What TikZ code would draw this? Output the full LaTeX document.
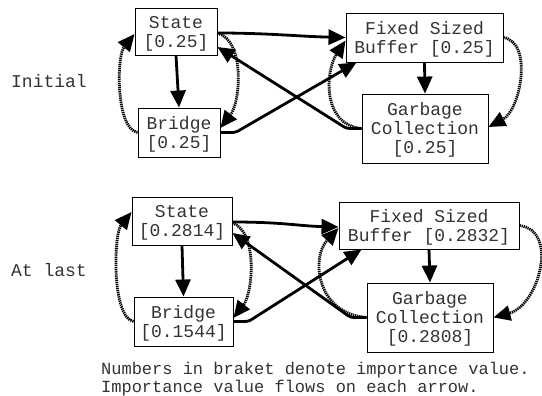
\documentclass[tikz,border=0pt]{standalone}
\usepackage{fontspec}
\setmainfont{Liberation Mono}
\usetikzlibrary{arrows.meta}

\tikzset{
  box/.style={draw=black, line width=0.9pt, inner sep=0pt, align=center,
    text=black!80, font=\fontsize{18}{19}\selectfont},
  lbl/.style={inner sep=0pt, text=black!80, font=\fontsize{18}{19}\selectfont},
  flow/.style={line width=2.8pt, -{Triangle[length=17pt,width=15pt]}},
  back/.style={line width=2.8pt, dash pattern=on 1.3pt off 0.8pt,
    -{Triangle[length=17pt,width=15pt]}},
  lift/.style={yshift=-2pt},
}

\begin{document}
\begin{tikzpicture}[x=1pt, y=-1pt]
\useasboundingbox (0,0) rectangle (542,396);

% ---- initial values ----
\node[lbl] (init) at (49,81) {Initial};
\node[box, minimum width=82pt, minimum height=47pt] (s1) at (176,31.5) {\rule{0pt}{16pt}State\\{}[0.25]};
\node[box, minimum width=82pt, minimum height=49pt] (b1) at (179,132.5) {\rule{0pt}{16pt}Bridge\\{}[0.25]};
\node[box, minimum width=157pt, minimum height=49pt] (f1) at (424.5,37.5) {\rule{0pt}{16pt}Fixed Sized\\Buffer [0.25]};
\node[box, minimum width=126pt, minimum height=69pt] (g1) at (425,128.5) {\rule{0pt}{16pt}Garbage\\Collection\\{}[0.25]};

\draw[flow] (s1.south) -- (b1.north);
\draw[flow] ([yshift=-1.5pt]s1.east) .. controls +(50,0) and +(-45,-1) .. (f1.west);
\draw[flow, rounded corners=3pt] (b1.east) -- ++(15,0) -- ([xshift=11pt]f1.south west);
\draw[flow, rounded corners=3pt] (g1.west) -- ++(-15,0) -- ([yshift=-15.5pt]s1.east);
\draw[flow] (f1.south) -- (g1.north);
\draw[back] (b1.west) .. controls +(-22,-4) and +(-18,22) .. ([yshift=-2.5pt]s1.west);
\draw[back] ([yshift=-1.5pt]s1.east) .. controls +(28,8) and +(20,-26) .. ([yshift=4.5pt]b1.east);
\draw[back] (f1.east) .. controls +(30,5) and +(32,-17) .. ([yshift=1.5pt]g1.east);
\draw[back] (g1.west) .. controls +(-40,-4) and +(-20,30) .. ([yshift=-3pt]f1.west);

% ---- final values ----
\node[lbl] (last) at (49,270) {At last};
\node[box, minimum width=100pt, minimum height=48pt] (s2) at (182,221) {\rule{0pt}{16pt}State\\{}[0.2814]};
\node[box, minimum width=99pt, minimum height=49pt] (b2) at (183.5,321.5) {\rule{0pt}{16pt}Bridge\\{}[0.1544]};
\node[box, minimum width=180pt, minimum height=47pt] (f2) at (429,225.5) {\rule{0pt}{16pt}Fixed Sized\\Buffer [0.2832]};
\node[box, minimum width=126pt, minimum height=69pt] (g2) at (430,317.5) {\rule{0pt}{16pt}Garbage\\Collection\\{}[0.2808]};

\draw[flow] (s2.south) -- (b2.north);
\draw[flow] ([yshift=-1pt]s2.east) .. controls +(50,0) and +(-40,-1) .. ([yshift=-1.5pt]f2.west);
\draw[flow, rounded corners=3pt] (b2.east) -- ++(15,0) -- ([xshift=23pt]f2.south west);
\draw[flow, rounded corners=3pt] (g2.west) -- ++(-16,0) -- ([yshift=-12pt]s2.east);
\draw[flow] (f2.south) -- (g2.north);
\draw[back] (b2.west) .. controls +(-22,-4) and +(-18,22) .. ([yshift=9pt]s2.west);
\draw[back] ([yshift=-2pt]s2.east) .. controls +(25,8) and +(20,-26) .. ([yshift=3.5pt]b2.east);
\draw[back] (f2.east) .. controls +(40,5) and +(45,-12) .. (g2.east);
\draw[back] (g2.west) .. controls +(-50,-4) and +(-28,30) .. ([yshift=-2.5pt]f2.west);

% ---- legend ----
\node[lbl, anchor=west, align=left, font=\fontsize{17}{18}\selectfont] (note) at (101,379)
  {Numbers in braket denote importance value.\\Importance value flows on each arrow.};
\end{tikzpicture}
\end{document}
